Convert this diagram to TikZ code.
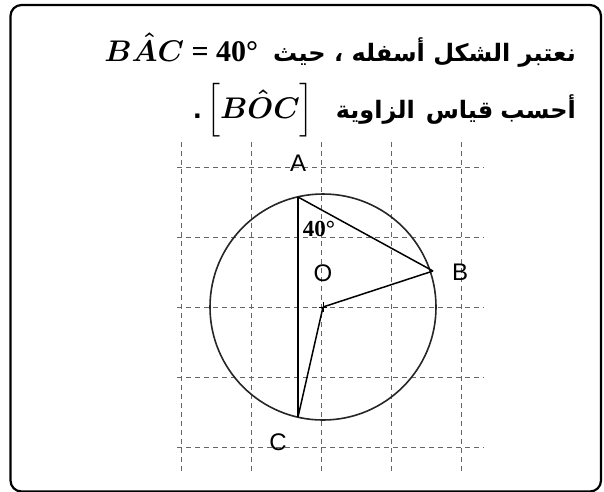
\documentclass[tikz,border=0pt]{standalone}
\usepackage{amsmath}
\usepackage{fontspec}
\usetikzlibrary{calc}
\newfontfamily\arabicfont[Script=Arabic]{DejaVu Sans}
\newfontfamily\labelfont{Liberation Sans}
\newfontfamily\degreefont{Liberation Serif}
\TeXXeTstate=1
\newcommand\bigmath[1]{\scalebox{1.2}{\boldmath$#1$}}

\begin{document}
\begin{tikzpicture}[
  x=1pt, y=-1pt,
  frame/.style={draw, line width=2.2pt, rounded corners=11pt},
  gridline/.style={draw=black!60, line width=0.9pt, dash pattern=on 5pt off 4pt},
  seg/.style={draw, line width=1.5pt},
  rim/.style={draw=black!85, line width=1.6pt},
  ptlabel/.style={font=\labelfont\fontsize{24}{24}\selectfont, inner sep=0pt},
  anglabel/.style={font=\degreefont\bfseries\fontsize{23}{23}\selectfont, inner sep=0pt},
  txt/.style={font=\arabicfont\bfseries\fontsize{24}{30}\selectfont, inner sep=0pt},
]
\useasboundingbox (0,0) rectangle (604,491);
\fill[white] (0,0) rectangle (604,491);
\draw[frame] (10.5,5) rectangle (601,491.5);

% ---- statement (two right-to-left lines) ------------------------------------
\node[txt, anchor=base east] (line1) at (576,61)
  {\beginR نعتبر الشكل أسفله ، حيث\hspace{15pt}\beginL\bigmath{B\hat{A}C}%
   {\degreefont\bfseries\fontsize{30}{30}\selectfont\ = 40°}\endL\endR};
\node[txt, anchor=base east] (line2) at (576,118)
  {\beginR أحسب\hspace{7pt}قياس\hspace{11pt}الزاوية\hspace{22pt}\beginL\bigmath{\Big[B\hat{O}C\Big]}\endL\hspace{4pt}.\endR};

% ---- dashed grid -----------------------------------------------------------
\foreach \gx in {181,251,321,391,461}
  \draw[gridline] (\gx,142) -- (\gx,474);
\foreach \gy in {167,237,307,377,447}
  \draw[gridline] (177,\gy) -- (484,\gy);

% ---- circle and points -----------------------------------------------------
\coordinate (O) at (323,307);
\coordinate (A) at (298,197);
\coordinate (B) at (433,271);
\coordinate (C) at (298,417);

\draw[rim] (O) circle (113);

\draw[seg] (A) -- (C);
\draw[seg] (A) -- (B);
\draw[seg] (O) -- (B);
\draw[seg] (O) -- (C);
% small cross marking the centre
\draw[line width=1pt] ($(O)+(-4,0)$) -- ($(O)+(4,0)$)
  ($(O)+(0,-5)$) -- ($(O)+(0,5)$);

\node[ptlabel] (labA) at (298,163) {A};
\node[ptlabel] (labB) at (460,272) {B};
\node[ptlabel] (labO) at (323,273) {O};
\node[ptlabel] (labC) at (278,442) {C};
\node[anglabel] (ang) at (319,229) {40°};
\end{tikzpicture}
\end{document}
